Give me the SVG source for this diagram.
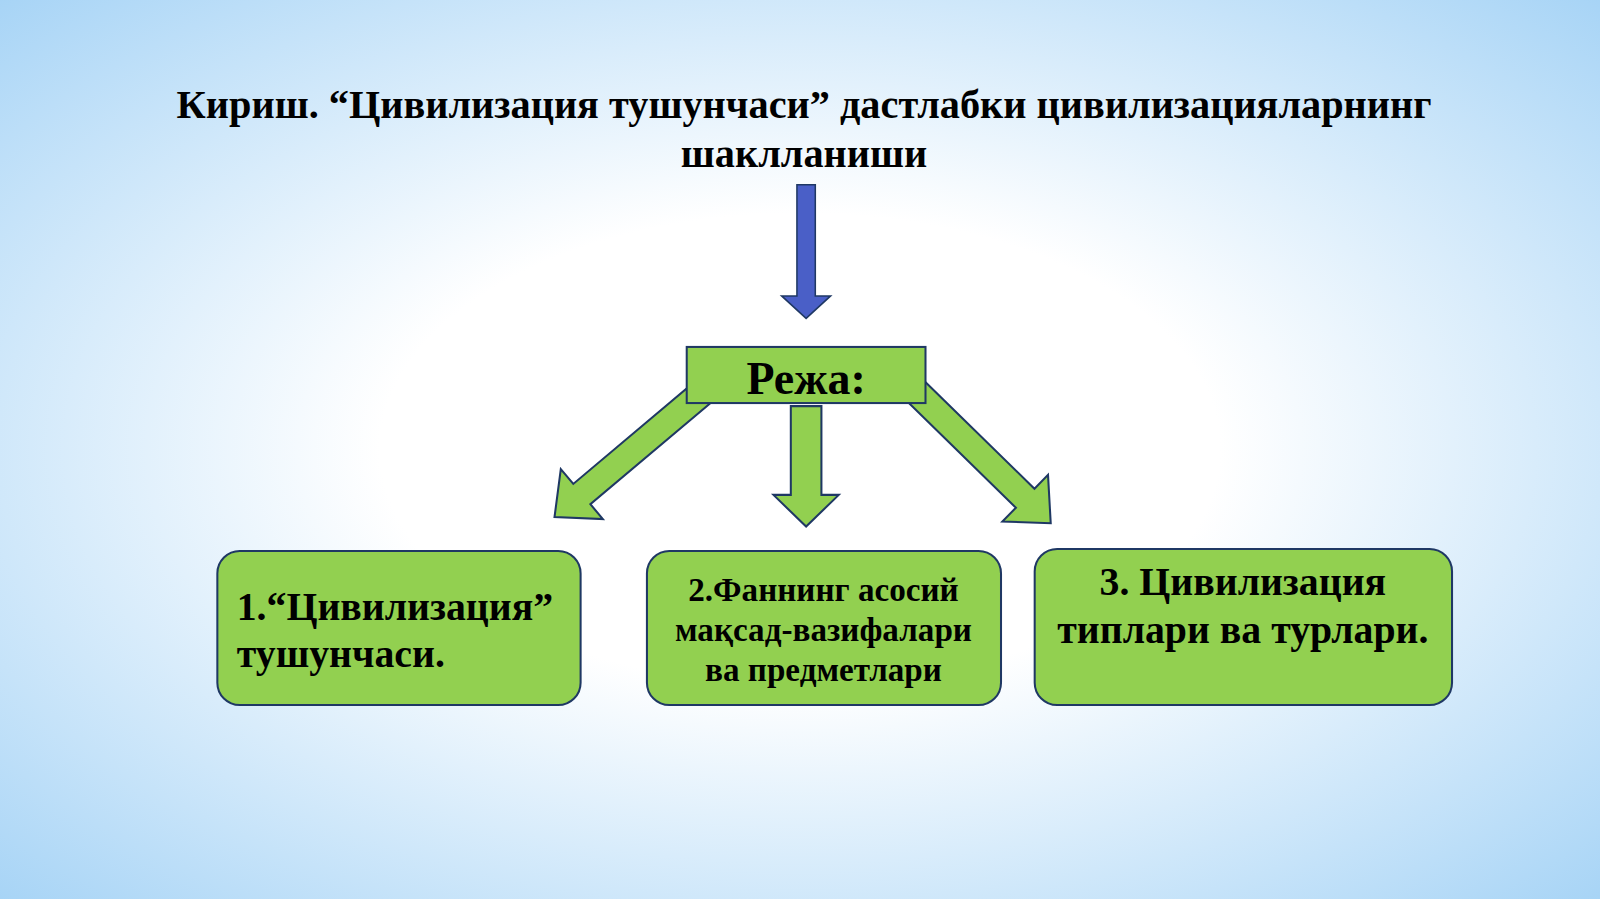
<svg xmlns="http://www.w3.org/2000/svg" width="1600" height="899" viewBox="0 0 1600 899">
<defs>
<radialGradient id="bg" cx="0.5" cy="0.5" r="0.75">
<stop offset="0.35" stop-color="#ffffff"/>
<stop offset="1" stop-color="#9fd0f5"/>
</radialGradient>
<style>
.t{font-family:"Liberation Serif",serif;font-weight:bold;fill:#000}
.g{fill:#92d050;stroke:#1f3864;stroke-width:2}
</style>
</defs>
<rect width="1600" height="899" fill="url(#bg)"/>
<g transform="scale(1.0204)">
<g id="title" class="t" font-size="39.5" text-anchor="middle">
<text x="788" y="116">Кириш. “Цивилизация тушунчаси” дастлабки цивилизацияларнинг</text>
<text x="788" y="164">шаклланиши</text>
</g>
<g id="connectors">
<polygon points="781,181 799,181 799,290 814,290 790,312 766,290 781,290" fill="#4a5fc7" stroke="#1f3864" stroke-width="1.5"/>
<polygon class="g" points="0,-13 154,-13 154,-32 189,0 154,32 154,13 0,13" transform="translate(688,385) rotate(139.9)"/>
<polygon class="g" points="775,398 805,398 805,485 822,485 790,516 758,485 775,485"/>
<polygon class="g" points="0,-13 152,-13 152,-32 187,0 152,32 152,13 0,13" transform="translate(896,382) rotate(44.35)"/>
</g>
<g id="plan">
<rect class="g" x="673" y="340" width="234" height="55"/>
<text class="t" x="790" y="386" font-size="45" text-anchor="middle">Режа:</text>
</g>
<g id="n1">
<rect class="g" x="213" y="540" width="356" height="151" rx="22"/>
<text class="t" font-size="39"><tspan x="232" y="608">1.“Цивилизация”</tspan><tspan x="232" y="654">тушунчаси.</tspan></text>
</g>
<g id="n2">
<rect class="g" x="634" y="540" width="347" height="151" rx="22"/>
<text class="t" font-size="32.5" text-anchor="middle"><tspan x="807" y="589">2.Фаннинг асосий</tspan><tspan x="807" y="628">мақсад-вазифалари</tspan><tspan x="807" y="667">ва предметлари</tspan></text>
</g>
<g id="n3">
<rect class="g" x="1014" y="538" width="409" height="153" rx="22"/>
<text class="t" font-size="39" text-anchor="middle"><tspan x="1218" y="583">3. Цивилизация</tspan><tspan x="1218" y="630">типлари ва турлари.</tspan></text>
</g>
</g>
</svg>
